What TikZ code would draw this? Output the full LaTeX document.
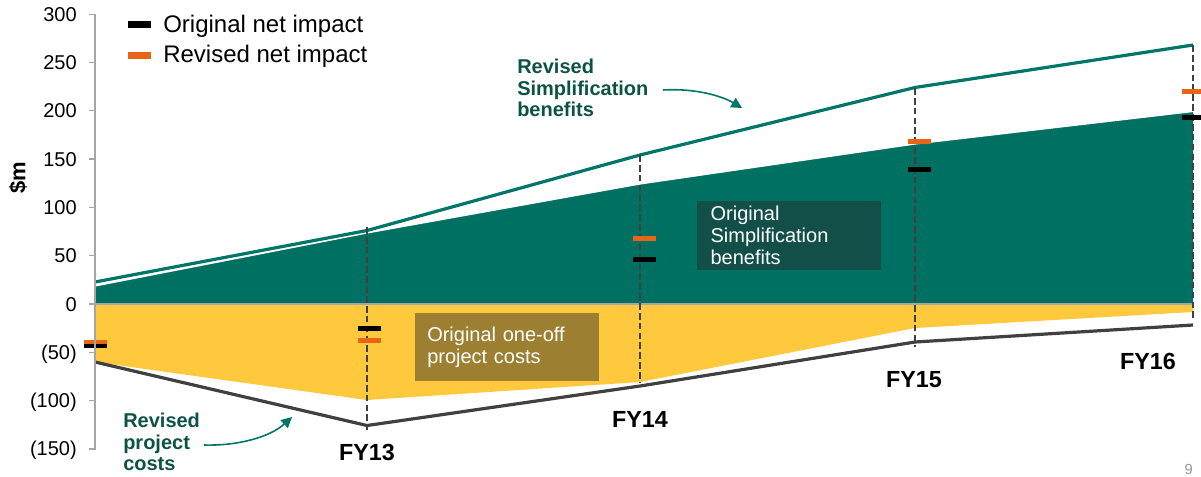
\documentclass[tikz,border=0pt]{standalone}
\usepackage{fontspec}
\setmainfont{Liberation Sans}
\usetikzlibrary{arrows.meta}

\definecolor{tealfill}{RGB}{0,112,98}
\definecolor{tealline}{RGB}{0,118,104}
\definecolor{tealtext}{RGB}{12,82,70}
\definecolor{tealbox}{RGB}{17,79,72}
\definecolor{costfill}{RGB}{255,201,61}
\definecolor{costbox}{RGB}{156,127,48}
\definecolor{darkline}{RGB}{64,64,64}
\definecolor{netorange}{RGB}{232,100,22}
\definecolor{axisgray}{RGB}{166,166,166}
\definecolor{pagegray}{RGB}{150,150,150}

\begin{document}
\begin{tikzpicture}[x=0.75pt,y=-0.75pt,
  axisline/.style={draw=axisgray,line width=1pt},
  ticklabel/.style={anchor=base east,inner sep=0,font=\fontsize{15}{18}\selectfont},
  legendtext/.style={anchor=base west,inner sep=0,font=\fontsize{18}{21}\selectfont},
  yearlabel/.style={anchor=base,inner sep=0,font=\fontsize{17.5}{20}\selectfont\bfseries},
  callout/.style={anchor=base west,inner sep=0,text width=110pt,align=left,
    text=tealtext,font=\fontsize{15}{16.3}\selectfont\bfseries},
  infobox/.style={anchor=north west,inner ysep=0,minimum height=51.6pt,
    text=white,align=left,font=\fontsize{15}{16.5}\selectfont},
  revline/.style={line width=2.4pt,line join=round},
  guide/.style={draw=darkline,line width=2.2pt,dash pattern=on 5pt off 2.4pt},
  pointer/.style={draw=tealline,line width=1.2pt,-{Triangle[length=8pt,width=8pt]}},
]
\useasboundingbox (0,0) rectangle (1201,476);

% original simplification benefits (area above zero)
\fill[tealfill] (95,304) -- (95,286) -- (367,233) -- (640,184) -- (915,144)
  -- (1193,111.5) -- (1193,304) -- cycle;
\draw[white,line width=0.9pt] (95,286) -- (367,233) -- (640,184) -- (915,144) -- (1193,111.5);

% original one-off project costs (area below zero)
\fill[costfill] (95,304) -- (1193,304) -- (1193,312) -- (915,328) -- (640,382)
  -- (367,400) -- (95,362) -- cycle;

% zero line
\draw[axisline,line width=0.8pt] (89,304) -- (1193,304);

% revised totals
\draw[revline,tealline] (95,282) -- (367,230.5) -- (640,155) -- (915,87.5) -- (1193,45);
\draw[revline,darkline] (95,362) -- (367,425.5) -- (640,386) -- (915,342) -- (1193,325);

% year guides
\draw[guide] (367,227) -- (367,430);
\draw[guide] (640,155) -- (640,383);
\draw[guide] (915,88) -- (915,347);
\draw[guide] (1193,45) -- (1193,321);

% net impact markers
\fill[netorange] (84,340.3) rectangle (107,345);
\fill[black] (84,344.3) rectangle (107,347.7);
\fill[black] (358,326.3) rectangle (381,330.7);
\fill[netorange] (358,338.3) rectangle (381,342.7);
\fill[netorange] (633,236) rectangle (656,240.7);
\fill[black] (633,257) rectangle (656,261.7);
\fill[netorange] (908,139.3) rectangle (931,143.7);
\fill[black] (908,167) rectangle (931,171.7);
\fill[netorange] (1182,89) rectangle (1205,93.7);
\fill[black] (1182,115) rectangle (1205,119.7);

% vertical axis with ticks and labels
\draw[axisline] (95,14) -- (95,450);
\foreach \v/\t in {300/300,250/250,200/200,150/150,100/100,50/50,0/0,-50/{(50)},-100/{(100)},-150/{(150)}}{
  \pgfmathsetmacro\py{304-0.966*\v}
  \draw[axisline] (89,\py) -- (95,\py);
  \node[ticklabel] (tick\v) at (77,\py+7) {\t};
}
\node[rotate=90,inner sep=0,font=\fontsize{16.5}{19}\selectfont\bfseries] (unit) at (18,178) {\$m};

% legend
\fill[black] (128,20.7) rectangle (151,28.3);
\fill[netorange] (128,51.7) rectangle (151,59.3);
\node[legendtext] (legorig) at (163,32.3) {Original net impact};
\node[legendtext] (legrev) at (163,62.7) {Revised net impact};

% labelled boxes
\node[infobox,fill=costbox,text width=120pt,inner xsep=9pt] (costs) at (415,312.3)
  {Original one-off\\project costs};
\node[infobox,fill=tealbox,text width=118pt,inner xsep=10pt] (benefits) at (697,201)
  {Original\\Simplification\\benefits};

% call-outs
\node[callout] (revbenefits) at (517,73.3) {Revised\\Simplification\\benefits};
\coordinate (rbTail) at (663,90);
\coordinate (rbTip) at (742,108);
\draw[pointer] (rbTail) .. controls (695,88) and (722,96) .. (rbTip);

\node[callout] (revcosts) at (123,427.3) {Revised\\project\\costs};
\coordinate (rcTail) at (204,445);
\coordinate (rcTip) at (292,417);
\draw[pointer] (rcTail) .. controls (238,446) and (270,437) .. (rcTip);

% year labels
\node[yearlabel] (fy13) at (367,460) {FY13};
\node[yearlabel] (fy14) at (640,427) {FY14};
\node[yearlabel] (fy15) at (914,387) {FY15};
\node[yearlabel] (fy16) at (1148,369) {FY16};

% page number
\node[anchor=base east,inner sep=0,text=pagegray,font=\fontsize{11}{13}\selectfont] (page) at (1193,474) {9};
\end{tikzpicture}
\end{document}
